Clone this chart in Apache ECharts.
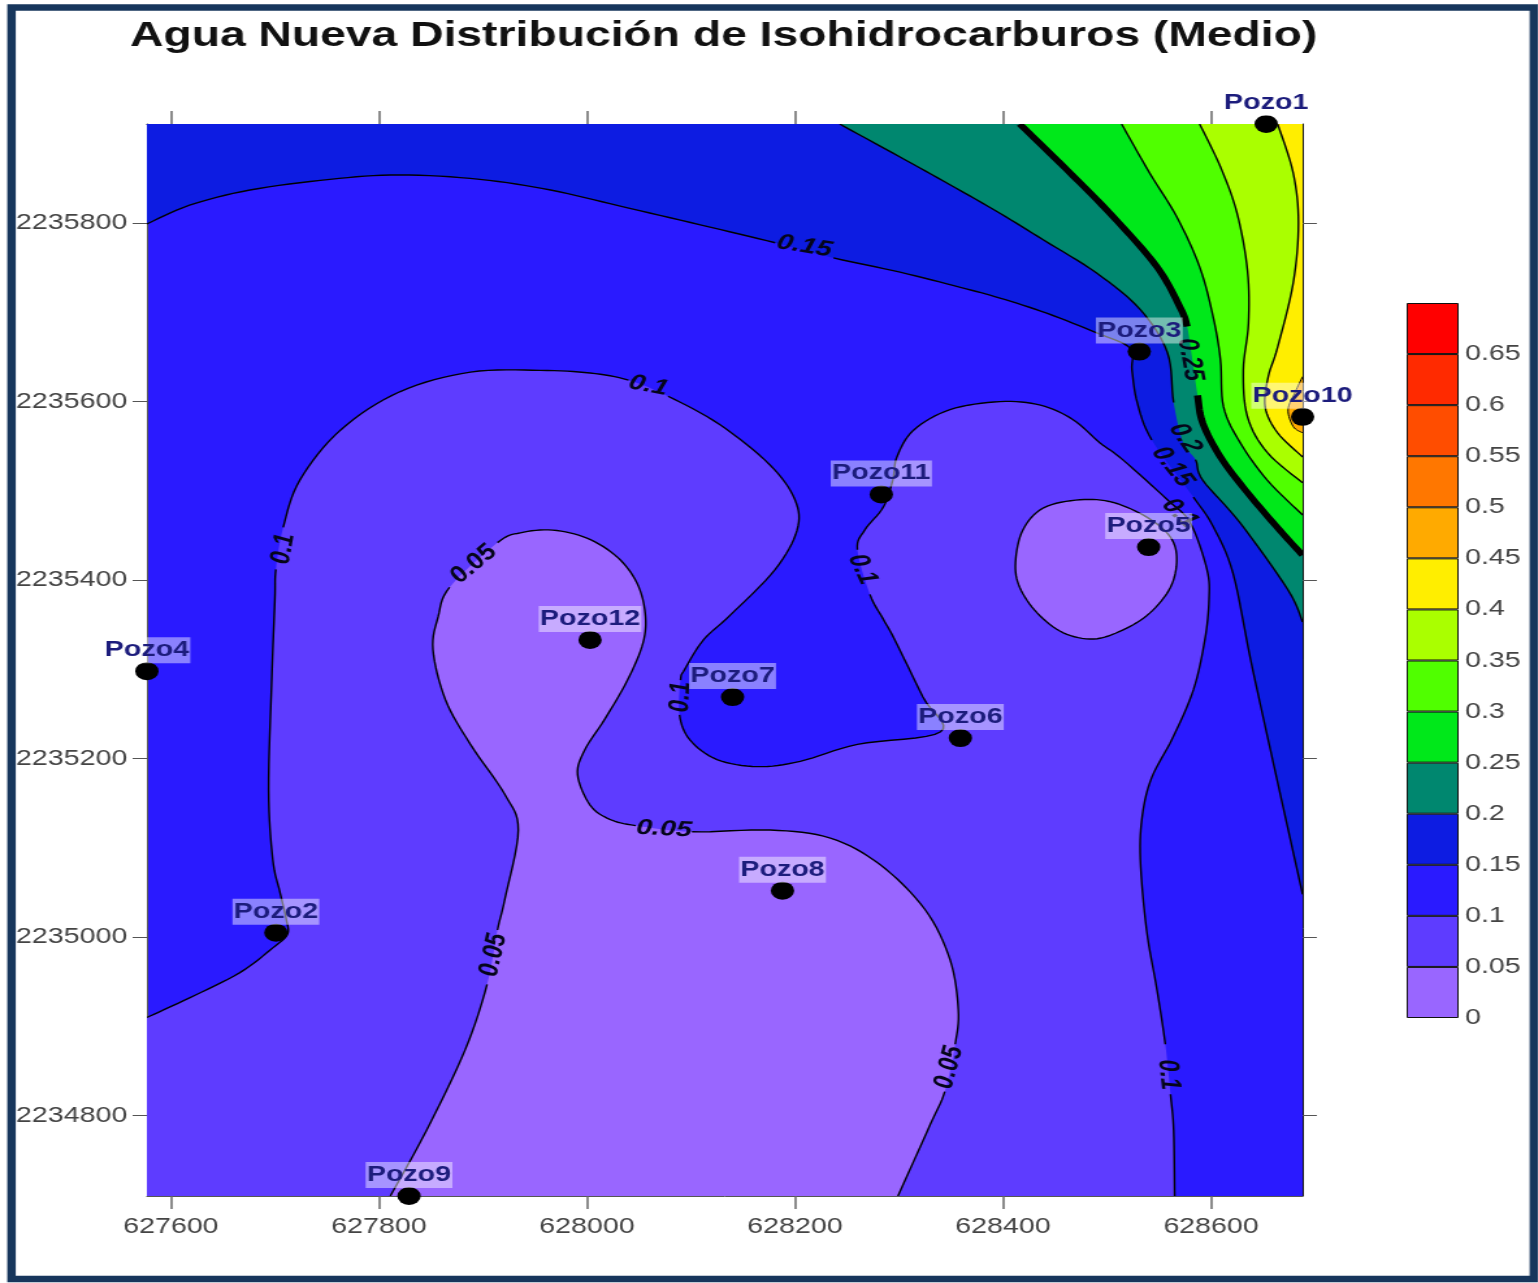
<!DOCTYPE html>
<html>
<head>
<meta charset="utf-8">
<title>Agua Nueva</title>
<script src="https://cdn.jsdelivr.net/npm/echarts@6/dist/echarts.min.js"></script>
<style>
html, body { margin: 0; padding: 0; background: #fff; overflow: hidden; }
/* the source picture is stretched sideways by about 1.3, text and dots too, and a bit soft */
#main { width: 1184px; height: 1283px; transform: scaleX(1.3); transform-origin: 0 0; filter: blur(0.4px); }
</style>
</head>
<body>
<div id="main"></div>
<script>
var xTicks = [627600, 627800, 628000, 628200, 628400, 628600];
var yTicks = [2234800, 2235000, 2235200, 2235400, 2235600, 2235800];
var colorbarTicks = [0, 0.05, 0.1, 0.15, 0.2, 0.25, 0.3, 0.35, 0.4, 0.45, 0.5, 0.55, 0.6, 0.65];
var colorbarBands = [0.05, 0.05, 0.05, 0.05, 0.05, 0.05, 0.05, 0.05, 0.05, 0.05, 0.05, 0.05, 0.05, 0.05];
var bandColors = ['#9966ff', '#5e3cff', '#2a1aff', '#0d1ce2', '#00876f', '#00e81a', '#50ff00', '#aaff00', '#ffee00', '#ffaa00', '#ff7700', '#ff4d00', '#ff2a00', '#ff0000'];

var xMin = 627577, xMax = 628688, yMin = 2234710, yMax = 2235911;

// contour lines, null = line broken for its label
var c010 = [[627577,2234910],[627618,2234932],[627666,2234960],[627698,2234988],[627712,2235003],[627711,2235020],[627705,2235050],[627698,2235087],[627694,2235165],[627697,2235288],[627700,2235378],[627701,2235412],null,[627708,2235459],[627724,2235512],[627763,2235568],[627820,2235611],[627888,2235633],[627955,2235635],[628003,2235632],[628040,2235624],null,[628078,2235606],[628128,2235574],[628176,2235529],[628200,2235490],[628202,2235456],[628181,2235412],[628138,2235361],[628112,2235333],[628094,2235300],[628090,2235288],null,[628089,2235249],[628099,2235221],[628125,2235199],[628164,2235191],[628205,2235197],[628260,2235216],[628340,2235230],[628323,2235269],[628296,2235333],[628285,2235356],[628272,2235384],null,[628260,2235434],[628267,2235456],[628285,2235482],[628294,2235512],[628298,2235538],[628314,2235568],[628349,2235591],[628397,2235600],[628436,2235596],[628467,2235580],[628493,2235554],[628515,2235535],[628558,2235490],[628580,2235464],[628596,2235412],[628598,2235378],[628594,2235333],[628583,2235277],[628563,2235223],[628543,2235179],[628534,2235137],[628532,2235087],[628538,2235008],[628548,2234941],[628556,2234880],null,[628561,2234824],[628564,2234784],[628565,2234710]];
var c005a = [[627811,2234710],[627846,2234784],[627883,2234874],[627904,2234947],null,[627914,2235008],[627921,2235042],[627934,2235120],[627921,2235160],[627888,2235216],[627864,2235266],[627852,2235322],[627857,2235359],[627868,2235392],null,[627914,2235442],[627936,2235453],[627967,2235456],[628000,2235447],[628029,2235426],[628048,2235397],[628056,2235363],[628054,2235330],[628039,2235288],[628017,2235244],[627998,2235210],[627991,2235182],[628003,2235148],[628022,2235132],[628047,2235125],null,[628101,2235118],[628176,2235120],[628234,2235111],[628282,2235081],[628325,2235031],[628349,2234975],[628357,2234919],[628354,2234880],null,[628344,2234827],[628330,2234790],[628299,2234710]];
var c005b = [[628412,2235420],[628419,2235456],[628439,2235481],[628474,2235490],[628506,2235487],[628539,2235470],[628561,2235448],[628567,2235423],[628561,2235392],[628541,2235363],[628515,2235344],[628487,2235334],[628458,2235341],[628433,2235363],[628416,2235392],[628412,2235420]];
var c015 = [[627577,2235799],[627618,2235820],[627676,2235837],[627753,2235849],[627820,2235854],[627897,2235849],[627965,2235837],[628032,2235819],[628109,2235798],[628181,2235778],null,[628237,2235761],[628301,2235745],[628359,2235728],[628397,2235716],[628442,2235699],[628490,2235677],[628522,2235660],[628524,2235635],[628529,2235599],[628543,2235557],null,[628583,2235493],[628602,2235460],[628621,2235408],[628638,2235311],[628657,2235210],[628688,2235048]];
var c020 = [[628243,2235911],[628301,2235874],[628349,2235843],[628397,2235811],[628439,2235781],[628490,2235744],[628532,2235703],[628558,2235655],[628564,2235599],null,[628573,2235554],null,[628585,2235535],[628592,2235512],[628628,2235464],[628674,2235389],[628688,2235353]];
var c025 = [[628416,2235911],[628462,2235859],[628506,2235807],[628548,2235751],[628570,2235706],[628577,2235684],null,[628582,2235647],null,[628587,2235607],[628592,2235576],[628609,2235538],[628635,2235498],[628666,2235456],[628688,2235428]];
var c030 = [[628514,2235911],[628541,2235856],[628567,2235807],[628589,2235751],[628602,2235695],[628609,2235647],[628612,2235594],[628628,2235554],[628654,2235512],[628688,2235473]];
var c035 = [[628589,2235911],[628609,2235863],[628625,2235811],[628635,2235747],[628636,2235688],[628631,2235635],[628635,2235583],[628654,2235543],[628688,2235509]];
var c040 = [[628664,2235911],[628679,2235856],[628684,2235800],[628679,2235733],[628664,2235661],[628655,2235628],[628652,2235594],[628664,2235565],[628688,2235538]];
var c045 = [[628688,2235628],[628681,2235611],[628674,2235591],[628679,2235572],[628688,2235565]];

var contourLines = [c010, c005a, c005b, c015, c020, c025, c030, c035, c040, c045];
var contourLevels = [0.1, 0.05, 0.05, 0.15, 0.2, 0.25, 0.3, 0.35, 0.4, 0.45];
var contourBand = [1, 0, 0, 3, 4, 5, 6, 7, 8, 9];
var contourWidth = [1.4, 1.4, 1.4, 1.4, 1.4, 5.5, 1.4, 1.4, 1.4, 1];
// corners that close each filled area along the map edge
var contourClose = [
    [[xMin, yMin]], [], [],
    [[xMax, yMax], [xMin, yMax]],
    [[xMax, yMax]], [[xMax, yMax]], [[xMax, yMax]], [[xMax, yMax]], [[xMax, yMax]],
    []
];

var labelText = ['0.15', '0.1', '0.1', '0.05', '0.1', '0.1', '0.05', '0.05', '0.05', '0.1', '0.25', '0.2', '0.15', '0.1'];
var labelX = [628209, 628059, 627708, 627891, 628265, 628090, 628074, 627910, 628348, 628559, 628580, 628575, 628563, 628570];
var labelY = [2235774, 2235618, 2235435, 2235418, 2235412, 2235269, 2235121, 2234980, 2234854, 2234846, 2235647, 2235559, 2235527, 2235475];
var labelRotate = [-12, -14, 82, 47, -70, 88, -4, 80, 78, -85, -82, -62, -58, -50];

var wellNames = ['Pozo1', 'Pozo2', 'Pozo3', 'Pozo4', 'Pozo5', 'Pozo6', 'Pozo7', 'Pozo8', 'Pozo9', 'Pozo10', 'Pozo11', 'Pozo12'];
var wellX = [628653, 627701, 628531, 627577, 628540, 628359, 628140, 628188, 627829, 628688, 628283, 628003];
var wellY = [2235911, 2235005, 2235656, 2235298, 2235437, 2235223, 2235269, 2235052, 2234710, 2235583, 2235496, 2235333];

var myChart = echarts.init(document.getElementById('main'));

function curvePoints(curve) {
    var pts = [], gaps = {};
    curve.forEach(function (p) {
        if (p === null) {
            gaps[pts.length - 1] = true;
        } else {
            pts.push(p);
        }
    });
    return { pts: pts, gaps: gaps };
}

// catmull-rom through the read points, returns runs of pixels split at the gaps
function smoothRuns(px, gaps) {
    var n = px.length, runs = [], run = [px[0]], all = [px[0]];
    var closed = px[0][0] === px[n - 1][0] && px[0][1] === px[n - 1][1];
    for (var i = 0; i < n - 1; i++) {
        var p0 = i > 0 ? px[i - 1] : (closed ? px[n - 2] : px[0]);
        var p1 = px[i], p2 = px[i + 1];
        var p3 = i < n - 2 ? px[i + 2] : (closed ? px[1] : px[n - 1]);
        if (gaps[i]) {
            runs.push(run);
            run = [];
        }
        for (var j = 1; j <= 8; j++) {
            var t = j / 8, t2 = t * t, t3 = t2 * t;
            var q = [0, 1].map(function (d) {
                return 0.5 * (2 * p1[d] + (p2[d] - p0[d]) * t + (2 * p0[d] - 5 * p1[d] + 4 * p2[d] - p3[d]) * t2 + (3 * p1[d] - p0[d] - 3 * p2[d] + p3[d]) * t3);
            });
            all.push(q);
            if (!gaps[i]) run.push(q);
        }
        if (gaps[i]) run = [all[all.length - 1]];
    }
    runs.push(run);
    return { all: all, runs: runs };
}

function renderContour(params, api) {
    var k = params.dataIndex;
    var parsed = curvePoints(contourLines[k]);
    var px = parsed.pts.map(function (p) { return api.coord(p); });
    var line = smoothRuns(px, parsed.gaps);
    var fillPts = line.all.concat(contourClose[k].map(function (p) { return api.coord(p); }));
    var children = [{
        type: 'polygon',
        shape: { points: fillPts },
        style: { fill: bandColors[contourBand[k]], stroke: null }
    }];
    line.runs.forEach(function (run) {
        if (run.length < 2) return;
        children.push({
            type: 'polyline',
            shape: { points: run },
            style: { fill: null, stroke: '#000', lineWidth: contourWidth[k] }
        });
    });
    return { type: 'group', children: children };
}

var labelFont = '"Liberation Sans", Arial, sans-serif';
var tickColor = '#444';

var option = {
    animation: false,
    backgroundColor: '#fff',
    title: {
        text: 'Agua Nueva Distribución de Isohidrocarburos (Medio)',
        left: 95,
        top: 13,
        textStyle: { fontFamily: labelFont, fontSize: 35.6, fontWeight: 'bold', color: '#111' }
    },
    graphic: [{
        type: 'rect',
        shape: { x: 8.85, y: 7.5, width: 1171, height: 1271.5 },
        style: { fill: null, stroke: '#17365c', lineWidth: 6.5 },
        silent: true
    }],
    grid: [
        { left: 113, top: 124, width: 889, height: 1072, show: true, backgroundColor: bandColors[2], borderWidth: 0 },
        { left: 1082, top: 303, width: 40, height: 715 }
    ],
    xAxis: [{
        type: 'value', gridIndex: 0, position: 'bottom', min: xMin, max: xMax, splitLine: { show: false },
        axisLine: { lineStyle: { color: '#555', width: 1 } },
        axisTick: { customValues: xTicks, length: 13, lineStyle: { color: '#666', width: 1.5 } },
        axisLabel: {
            customValues: xTicks, margin: 20, color: tickColor, fontFamily: labelFont, fontSize: 22,
            formatter: function (v) { return String(v); }
        }
    }, {
        type: 'value', gridIndex: 0, position: 'top', min: xMin, max: xMax, splitLine: { show: false },
        axisLine: { lineStyle: { color: '#111', width: 1 } },
        axisTick: { customValues: xTicks, length: 13, lineStyle: { color: '#666', width: 1.5 } },
        axisLabel: { show: false }
    }, {
        type: 'category', gridIndex: 1, data: [''], show: false
    }],
    yAxis: [{
        type: 'value', gridIndex: 0, position: 'left', min: yMin, max: yMax, splitLine: { show: false },
        axisLine: { lineStyle: { color: '#555', width: 1 } },
        axisTick: { customValues: yTicks, length: 11, lineStyle: { color: '#555', width: 1 } },
        axisLabel: {
            customValues: yTicks, margin: 15, color: tickColor, fontFamily: labelFont, fontSize: 22,
            formatter: function (v) { return String(v); }
        }
    }, {
        type: 'value', gridIndex: 0, position: 'right', min: yMin, max: yMax, splitLine: { show: false },
        axisLine: { lineStyle: { color: '#111', width: 1 } },
        axisTick: { customValues: yTicks, length: 11, lineStyle: { color: '#555', width: 1 } },
        axisLabel: { show: false }
    }, {
        type: 'value', gridIndex: 1, position: 'right', min: 0, max: 0.7, splitLine: { show: false },
        axisLine: { show: false },
        axisTick: { show: false },
        axisLabel: {
            customValues: colorbarTicks, margin: 5, color: tickColor, fontFamily: labelFont, fontSize: 22,
            formatter: function (v) { return String(v); }
        }
    }],
    series: [{
        type: 'custom',
        name: 'contours',
        coordinateSystem: 'cartesian2d',
        xAxisIndex: 0,
        yAxisIndex: 0,
        clip: true,
        renderItem: renderContour,
        data: contourLevels.map(function (v) { return [v]; }),
        silent: true,
        z: 2
    }, {
        type: 'scatter',
        name: 'contour labels',
        xAxisIndex: 0,
        yAxisIndex: 0,
        clip: false,
        symbolSize: 1,
        itemStyle: { color: 'transparent', opacity: 1 },
        data: labelText.map(function (t, i) {
            return {
                name: t,
                value: [labelX[i], labelY[i]],
                label: {
                    show: true, position: 'inside', formatter: '{b}', rotate: labelRotate[i],
                    fontFamily: labelFont, fontSize: 22, fontWeight: 'bold', fontStyle: 'italic', color: '#05051a'
                }
            };
        }),
        z: 3
    }, {
        type: 'scatter',
        name: 'wells',
        xAxisIndex: 0,
        yAxisIndex: 0,
        clip: false,
        symbol: 'circle',
        symbolSize: 18,
        itemStyle: { color: '#000', opacity: 1 },
        label: {
            show: true, position: 'top', distance: 1, offset: [0, 2], formatter: '{b}',
            fontFamily: labelFont, fontSize: 22, fontWeight: 'bold', color: '#1c1c7c',
            backgroundColor: 'rgba(255,255,255,0.45)', padding: [2, 1, 2, 1]
        },
        data: wellNames.map(function (n, i) {
            return { name: n, value: [wellX[i], wellY[i]] };
        }),
        z: 4
    }].concat(colorbarBands.map(function (v, i) {
        return {
            type: 'bar',
            xAxisIndex: 2,
            yAxisIndex: 2,
            stack: 'colorbar',
            barWidth: '100%',
            silent: true,
            data: [v],
            itemStyle: { color: bandColors[i], borderColor: '#111', borderWidth: 1 }
        };
    }))
};

myChart.setOption(option);
</script>
</body>
</html>
